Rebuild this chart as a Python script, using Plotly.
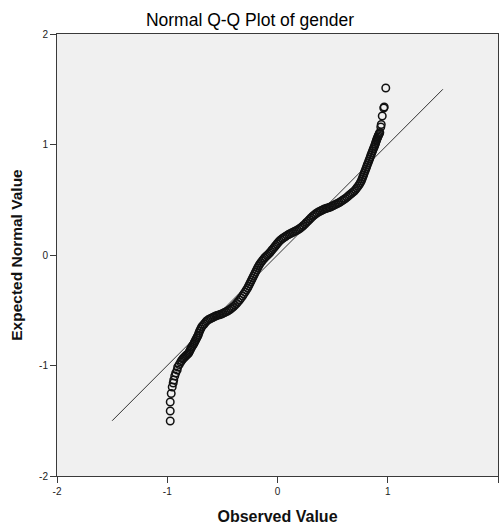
import plotly.graph_objects as go

observed = [
    -0.973, -0.973, -0.973, -0.964, -0.955, -0.946, -0.941, -0.932, -0.923, -0.910,
    -0.905, -0.891,
    -0.878, -0.869, -0.860, -0.851, -0.842, -0.833, -0.824, -0.814, -0.805, -0.799,
    -0.792, -0.785, -0.778, -0.769, -0.760, -0.754, -0.747, -0.740, -0.733, -0.726,
    -0.719, -0.713, -0.706, -0.697, -0.688, -0.677, -0.665, -0.654, -0.643, -0.629,
    -0.615, -0.602, -0.588, -0.575, -0.561, -0.548, -0.534, -0.521, -0.507, -0.494,
    -0.480, -0.466, -0.452, -0.439, -0.425, -0.412, -0.398, -0.385, -0.371, -0.358,
    -0.344, -0.331, -0.317, -0.306, -0.294, -0.283, -0.271, -0.262, -0.253, -0.244,
    -0.235, -0.226, -0.217, -0.208, -0.199, -0.190, -0.181, -0.172, -0.163, -0.152,
    -0.140, -0.129, -0.118, -0.107, -0.095, -0.084, -0.072, -0.061, -0.050, -0.039,
    -0.027, -0.016, -0.005, 0.006, 0.018, 0.031, 0.045, 0.058, 0.072, 0.086,
    0.100, 0.113, 0.127, 0.140, 0.154, 0.167, 0.181, 0.195, 0.208, 0.222,
    0.235, 0.249, 0.262, 0.276, 0.290, 0.303, 0.317, 0.330, 0.344, 0.357,
    0.371, 0.385, 0.398, 0.412, 0.425, 0.439, 0.452, 0.466, 0.480, 0.493,
    0.507, 0.520, 0.534, 0.548, 0.561, 0.575, 0.588, 0.602, 0.615, 0.629,
    0.643, 0.656, 0.670, 0.683, 0.697, 0.708, 0.719, 0.731, 0.742, 0.751,
    0.760, 0.767, 0.774, 0.781, 0.787, 0.794, 0.801, 0.808, 0.814, 0.821,
    0.828, 0.835, 0.842, 0.848, 0.855, 0.862, 0.869, 0.876, 0.882, 0.887,
    0.891, 0.896, 0.900, 0.905, 0.910, 0.914, 0.919, 0.924, 0.928,
    0.937, 0.941, 0.950, 0.964, 0.968, 0.982,
]
expected = [
    -1.502, -1.412, -1.330, -1.253, -1.195, -1.158, -1.131, -1.095, -1.068, -1.041,
    -1.014, -0.991,
    -0.968, -0.955, -0.941, -0.932, -0.923, -0.914, -0.905, -0.897, -0.887, -0.874,
    -0.860, -0.846, -0.833, -0.819, -0.805, -0.792, -0.778, -0.765, -0.751, -0.738,
    -0.724, -0.706, -0.688, -0.670, -0.652, -0.637, -0.624, -0.610, -0.597, -0.587,
    -0.579, -0.572, -0.566, -0.559, -0.552, -0.547, -0.543, -0.539, -0.534, -0.527,
    -0.520, -0.514, -0.507, -0.498, -0.489, -0.478, -0.466, -0.453, -0.439, -0.423,
    -0.407, -0.389, -0.371, -0.353, -0.335, -0.317, -0.299, -0.281, -0.262, -0.244,
    -0.226, -0.208, -0.190, -0.172, -0.154, -0.136, -0.118, -0.102, -0.086, -0.070,
    -0.054, -0.040, -0.027, -0.016, -0.005, 0.006, 0.018, 0.031, 0.045, 0.058,
    0.072, 0.086, 0.100, 0.113, 0.127, 0.138, 0.149, 0.158, 0.167, 0.177,
    0.186, 0.192, 0.199, 0.206, 0.213, 0.219, 0.226, 0.235, 0.244, 0.255,
    0.267, 0.280, 0.294, 0.307, 0.321, 0.335, 0.348, 0.360, 0.371, 0.380,
    0.389, 0.396, 0.403, 0.410, 0.416, 0.421, 0.425, 0.429, 0.434, 0.441,
    0.448, 0.455, 0.462, 0.468, 0.475, 0.484, 0.493, 0.502, 0.511, 0.522,
    0.534, 0.545, 0.557, 0.568, 0.579, 0.592, 0.606, 0.622, 0.638, 0.654,
    0.670, 0.688, 0.706, 0.724, 0.742, 0.760, 0.778, 0.796, 0.814, 0.832,
    0.851, 0.869, 0.887, 0.905, 0.923, 0.941, 0.959, 0.975, 0.991, 1.005,
    1.018, 1.032, 1.045, 1.057, 1.068, 1.079, 1.090, 1.100, 1.109,
    1.158, 1.181, 1.258, 1.330, 1.339, 1.511,
]
ref_line = [-1.5, 1.5]
ticks = [-2, -1, 0, 1, 2]

FONT = "Liberation Sans, Arial, sans-serif"
AXIS_COLOR = "#3a3a3a"

fig = go.Figure()
fig.add_trace(go.Scatter(
    x=ref_line, y=ref_line, mode="lines",
    line=dict(color="#333333", width=1), showlegend=False, hoverinfo="skip",
))
fig.add_trace(go.Scatter(
    x=observed, y=expected, mode="markers",
    marker=dict(symbol="circle-open", size=7.5, color="#111111", line=dict(width=1.5)),
    showlegend=False,
))

axis_common = dict(
    range=[-2, 2], tickvals=ticks, ticktext=[str(t) for t in ticks],
    showgrid=False, zeroline=False,
    showline=True, linecolor=AXIS_COLOR, linewidth=1, mirror=True,
    ticks="outside", ticklen=6, tickwidth=1, tickcolor=AXIS_COLOR,
    tickfont=dict(family=FONT, size=10, color="#222222"),
    automargin=False,
)

fig.update_layout(
    width=500, height=529,
    margin=dict(l=57, r=2, t=34, b=53),
    paper_bgcolor="white", plot_bgcolor="#f0f0f0",
    title=dict(text="Normal Q-Q Plot of gender", x=0.5, xref="container",
               xanchor="center", y=1 - 20 / 529, yref="container", yanchor="middle",
               font=dict(family=FONT, size=17.5, color="#000000")),
    xaxis=dict(axis_common, title=dict(text="<b>Observed Value</b>", standoff=14,
               font=dict(family=FONT, size=16, color="#111111"))),
    yaxis=dict(axis_common, title=dict(text="<b>Expected Normal Value</b>", standoff=12,
               font=dict(family=FONT, size=15.5, color="#111111"))),
)

fig.write_html("out.html")
